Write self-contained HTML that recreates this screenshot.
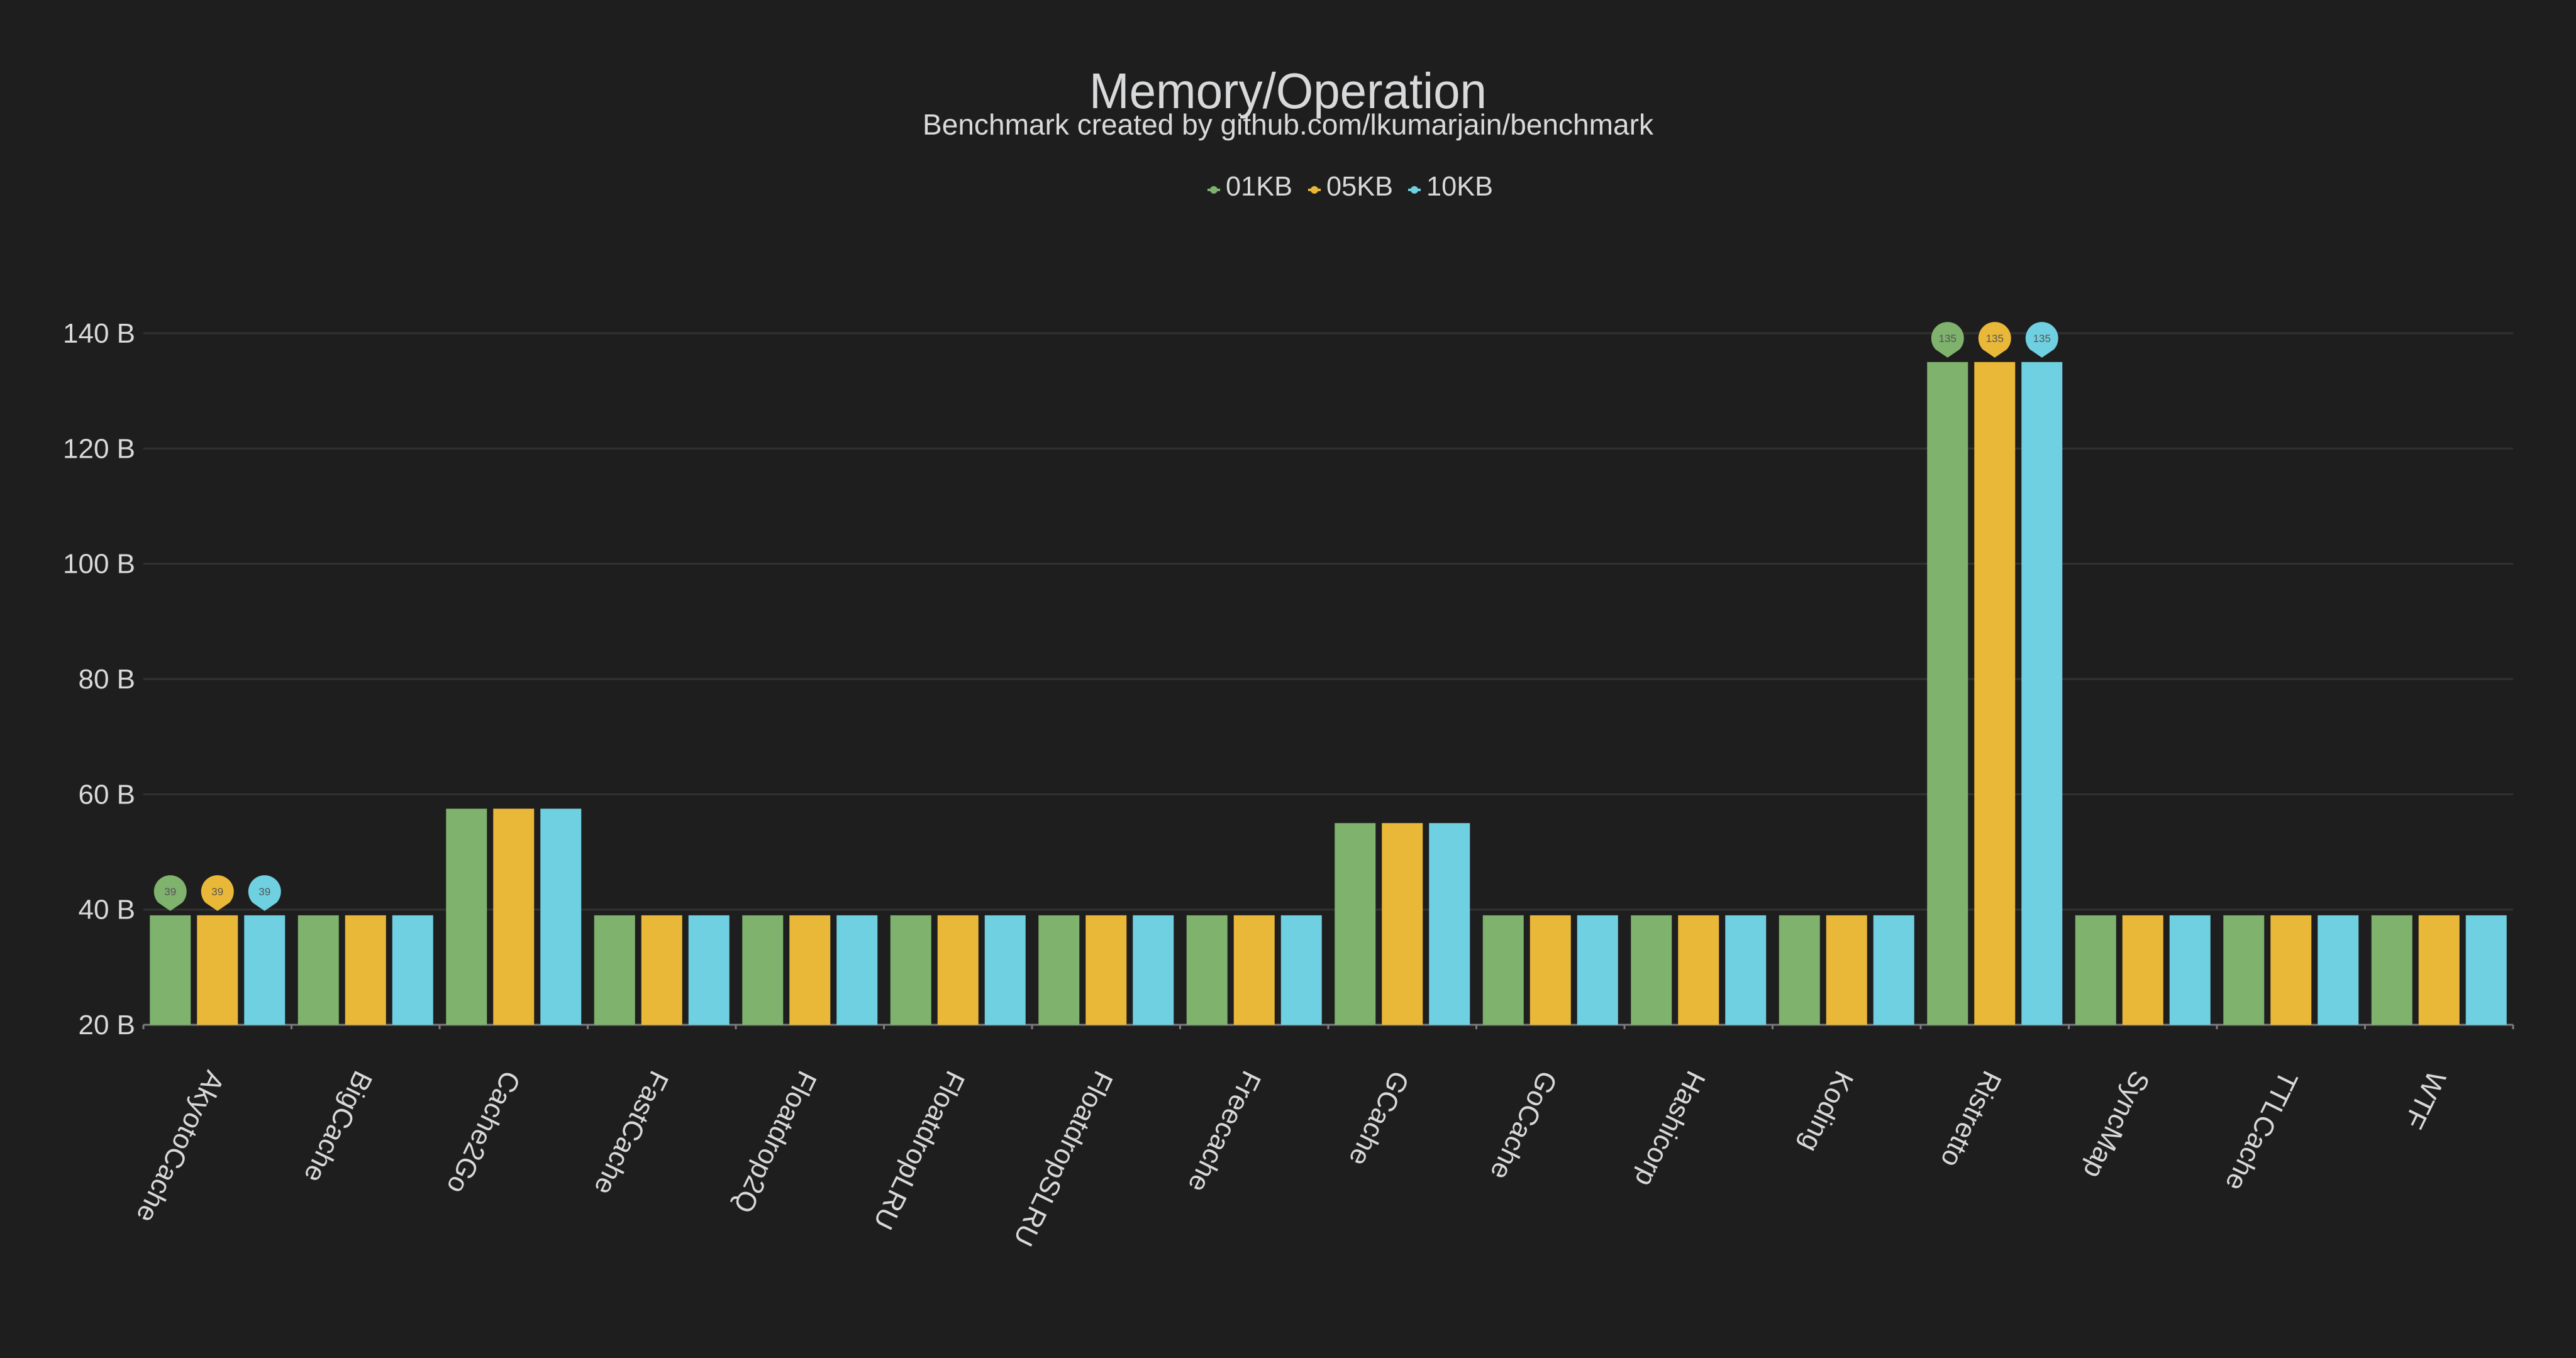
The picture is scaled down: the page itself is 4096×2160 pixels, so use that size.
<!DOCTYPE html>
<html><head><meta charset="utf-8"><style>
html,body{margin:0;padding:0;background:#1f1e1f;}
svg{display:block;font-family:"Liberation Sans",sans-serif;}
</style></head><body>
<svg id="chart" width="4096" height="2160" viewBox="0 0 4096 2160" xmlns="http://www.w3.org/2000/svg">
<rect width="4096" height="2160" fill="#1f1e1f"/>
<text x="2048" y="172" text-anchor="middle" font-size="80" fill="#d8d9da" textLength="632" lengthAdjust="spacingAndGlyphs">Memory/Operation</text>
<text x="2048" y="214" text-anchor="middle" font-size="46" fill="#d8d9da" textLength="1162" lengthAdjust="spacingAndGlyphs">Benchmark created by github.com/lkumarjain/benchmark</text>
<g id="legend"></g>
<g id="grid"></g>
<g id="bars"></g>
<g id="pins"></g>
<g id="xlabels"></g>
</svg>
<script>
const categories = ["AkyotoCache","BigCache","Cache2Go","FastCache","Floatdrop2Q","FloatdropLRU","FloatdropSLRU","Freecache","GCache","GoCache","Hashicorp","Koding","Ristretto","SyncMap","TTLCache","WTF"];
const seriesNames = ["01KB","05KB","10KB"];
const values01KB = [39,39,57.5,39,39,39,39,39,55,39,39,39,135,39,39,39];
const values05KB = [39,39,57.5,39,39,39,39,39,55,39,39,39,135,39,39,39];
const values10KB = [39,39,57.5,39,39,39,39,39,55,39,39,39,135,39,39,39];
const yTicks = [20,40,60,80,100,120,140];

const series = [values01KB, values05KB, values10KB];
const colors = ["#7eb26d","#eab839","#6ed0e0"];
const NS = "http://www.w3.org/2000/svg";
const plotL = 228, plotR = 3996;
function yScale(v){ return 530 + (140 - v) * 9.167; }
const axisY = yScale(20);
const band = (plotR - plotL) / categories.length;
function xBand(i){ return plotL + i * band; }
function mk(tag, attrs, parent){ const e = document.createElementNS(NS, tag); for (const k in attrs) e.setAttribute(k, attrs[k]); parent.appendChild(e); return e; }

const grid = document.getElementById('grid');
yTicks.forEach(t => {
  const y = yScale(t);
  const l = mk('line', {x1: plotL, x2: plotR, y1: y, y2: y, stroke: '#333233', 'stroke-width': 3}, grid);
  
  
  const tx = mk('text', {x: 215, y: y + 15, 'text-anchor': 'end', 'font-size': 44, fill: '#d8d9da'}, grid);
  tx.textContent = t + ' B';
  
  
});
const ax = mk('line', {x1: plotL, x2: plotR, y1: axisY, y2: axisY, stroke: '#7a7a80', 'stroke-width': 3}, grid);


for (let i = 0; i <= categories.length; i++) {
  const tk = mk('line', {x1: xBand(i), x2: xBand(i), y1: axisY, y2: axisY + 7, stroke: '#7a7a80', 'stroke-width': 3}, grid);
  
  
}

const barsG = document.getElementById('bars');
const pinsG = document.getElementById('pins');
const barW = 65, gap = 10, pad = (band - 3 * barW - 2 * gap) / 2;
series.forEach((vals, s) => {
  const maxV = Math.max(...vals), minV = Math.min(...vals);
  const maxI = vals.indexOf(maxV), minI = vals.indexOf(minV);
  vals.forEach((v, i) => {
    const x = xBand(i) + pad + s * (barW + gap);
    const y = yScale(v);
    const r = mk('rect', {x: x, y: y, width: barW, height: axisY - y, fill: colors[s]}, barsG);
    
    
    if (i === maxI || i === minI) {
      const cx = x + barW / 2, tip = y - 7, cy = tip - 31, R = 26;
      const p = mk('path', {d: `M${cx} ${tip} L${cx - 19} ${cy + 18} A${R} ${R} 0 1 1 ${cx + 19} ${cy + 18} Z`, fill: colors[s]}, pinsG);
      
      
      const t = mk('text', {x: cx, y: cy + 6, 'text-anchor': 'middle', 'font-size': 17, fill: '#555'}, pinsG);
      t.textContent = String(v);
      
      
    }
  });
});

const xl = document.getElementById('xlabels');
categories.forEach((c, i) => {
  const x = xBand(i) + band / 2 - 15, y = 1700;
  const t = mk('text', {x: x, y: y, 'font-size': 44, fill: '#d8d9da', transform: `rotate(116 ${x} ${y})`}, xl);
  t.textContent = c;
  
  
});

const lg = document.getElementById('legend');
const legendX = [1930, 2090, 2249];
seriesNames.forEach((n, s) => {
  const g = mk('g', {}, lg);
  
  
  mk('line', {x1: legendX[s] - 10, x2: legendX[s] + 10, y1: 302, y2: 302, stroke: colors[s], 'stroke-width': 4}, g);
  mk('circle', {cx: legendX[s], cy: 302, r: 6, fill: colors[s]}, g);
  const t = mk('text', {x: legendX[s] + 19, y: 311, 'font-size': 44, fill: '#d8d9da', textLength: 106, lengthAdjust: 'spacingAndGlyphs'}, g);
  t.textContent = n;
});
</script>
</body></html>
